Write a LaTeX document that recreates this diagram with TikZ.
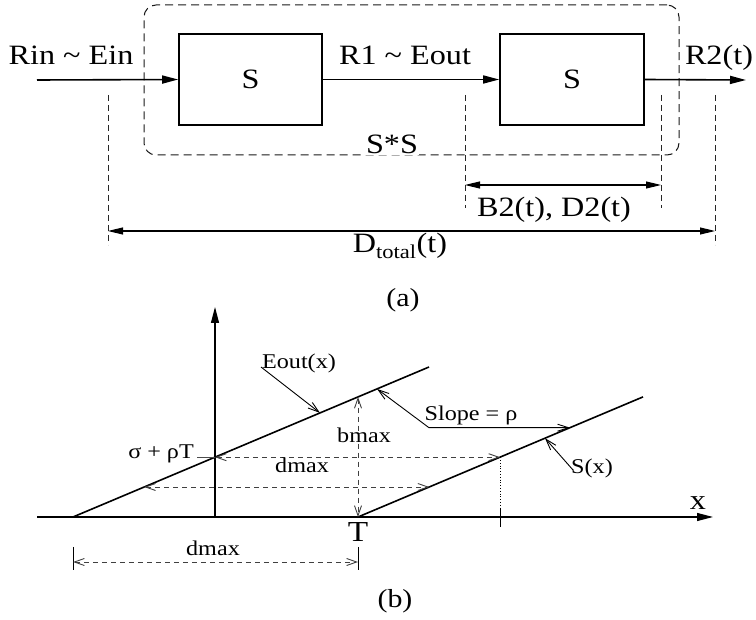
\documentclass[tikz,border=0pt]{standalone}
\usepackage{fontspec}
\setmainfont{Liberation Serif}[FakeStretch=1.15]
\usetikzlibrary{arrows.meta}
\newcommand\fsa{\fontsize{28}{32}\selectfont}
\newcommand\fsb{\fontsize{21}{25}\selectfont}
\newcommand\fsc{\fontsize{26}{30}\selectfont}
\tikzset{
  sysbox/.style={draw, line width=1.6pt, minimum height=91pt, inner sep=0pt, font=\fsa},
  sig/.style={line width=1.6pt, -{Triangle[length=16pt,width=8pt]}},
  dimline/.style={line width=1.1pt, {Triangle[length=15pt,width=7pt]}-{Triangle[length=15pt,width=7pt]}},
  extline/.style={line width=1pt, black!85, dash pattern=on 6pt off 4pt},
  grpbox/.style={draw, line width=1pt, black!90, dash pattern=on 8pt off 5pt, rounded corners=12pt, minimum width=535pt, minimum height=150pt, inner sep=0pt},
  lbla/.style={font=\fsa, inner sep=0pt, anchor=base},
  lblb/.style={font=\fsb, inner sep=0pt, anchor=base},
  axisline/.style={line width=1.1pt, -{Triangle[length=16pt,width=8pt]}},
  curve/.style={line width=1.6pt},
  barbs/.style={line width=0.9pt, black!75, dash pattern=on 5pt off 4pt, {Straight Barb[length=10pt,width=7pt]}-{Straight Barb[length=10pt,width=7pt]}},
  pointer/.style={line width=0.9pt, -{Straight Barb[length=11pt,width=7pt]}},
  tickline/.style={line width=0.9pt},
}
\begin{document}
\begin{tikzpicture}[x=1pt,y=-1pt]
\useasboundingbox (0,0) rectangle (756,620);
% ---------- (a) ----------
\node[grpbox] (grp) at (411.5,80) {};
\node[sysbox, minimum width=143pt] (b1) at (250.5,79.5) {S};
\node[sysbox, minimum width=144pt] (b2) at (572,79.5) {S};
\coordinate (in) at (37,80);
\coordinate (out) at (746,80);
\draw[sig] (in) -- (b1.west);
\draw[sig] (b1.east) -- (b2.west);
\draw[sig] (b2.east) -- (out);
\node[lbla] (lin) at (71,65) {Rin \textasciitilde{} Ein};
\node[lbla] (lr1) at (405,65) {R1 \textasciitilde{} Eout};
\node[lbla] (lr2) at (719,65) {R2(t)};
\node[lbla, fill=white, inner sep=1.5pt] (lss) at (392,153.5) {S*S};
% extension lines
\coordinate (e1t) at (108,95);  \coordinate (e1b) at (108,245);
\coordinate (e2t) at (465,95);  \coordinate (e2b) at (465,208);
\coordinate (e3t) at (661,95);  \coordinate (e3b) at (661,208);
\coordinate (e4t) at (715,95);  \coordinate (e4b) at (715,245);
\draw[extline] (e1t) -- (e1b);
\draw[extline] (e2t) -- (e2b);
\draw[extline] (e3t) -- (e3b);
\draw[extline] (e4t) -- (e4b);
\coordinate (bl) at (465,185); \coordinate (br) at (661,185);
\draw[dimline] (bl) -- (br);
\node[lbla] (lb2) at (554,217) {B2(t), D2(t)};
\coordinate (dl) at (108,231); \coordinate (dr) at (715,231);
\draw[dimline] (dl) -- (dr);
\node[lbla] (ldt) at (400,253) {D\textsubscript{total}(t)};
\node[font=\fsc, inner sep=0pt] (capa) at (403,300) {(a)};
% ---------- (b) ----------
\coordinate (xs) at (37,517);  \coordinate (xe) at (713,517);
\coordinate (ys) at (215,517); \coordinate (ye) at (215,307);
\draw[axisline] (xs) -- (xe);
\draw[axisline] (ys) -- (ye);
\node[font=\fontsize{28}{32}\selectfont, inner sep=0pt, anchor=base] (lx) at (698,510) {x};
% lines
\coordinate (E0) at (73,517);  \coordinate (E1) at (429,367);
\coordinate (S0) at (358,517); \coordinate (S1) at (643,396.9);
\draw[curve] (E0) -- (E1);
\draw[curve] (S0) -- (S1);
\node[font=\fontsize{29}{32}\selectfont, inner sep=0pt, anchor=base] (lT) at (358,541) {T};
% sigma + rho T level
\coordinate (Ey) at (215,457.2); \coordinate (Sy) at (500,457.2);
\coordinate (sgt) at (197,457.2);
\draw[tickline, black!70] (sgt) -- (Ey);
\node[lblb, anchor=base east] (lsig) at (194,459) {σ + ρT};
\draw[barbs] (Ey) -- (Sy);
\node[lblb] (ldm1) at (302,473) {dmax};
\coordinate (Sd) at (500,512); \coordinate (tk1) at (500,508); \coordinate (tk2) at (500,527);
\draw[line width=0.8pt, dotted] (Sy) -- (Sd);
\draw[tickline] (tk1) -- (tk2);
% second horizontal
\coordinate (E2) at (144.2,487); \coordinate (S2) at (429.2,487);
\draw[barbs] (E2) -- (S2);
% bmax
\coordinate (Eb) at (358,396.9);
\draw[barbs] (Eb) -- (S0);
\node[lblb] (lbm) at (364,443) {bmax};
% Eout pointer
\node[lblb] (leo) at (299,369) {Eout(x)};
\coordinate (eop) at (261,367); \coordinate (eot) at (320,412.9);
\draw[pointer] (eop) -- (eot);
% slope pointer
\node[lblb] (lsl) at (471,421) {Slope = ρ};
\coordinate (slc) at (429,427.7); \coordinate (slE) at (377,388.9); \coordinate (slS) at (570,427.7);
\draw[line width=0.9pt, {Straight Barb[length=11pt,width=7pt]}-{Straight Barb[length=11pt,width=7pt]}] (slE) -- (slc) -- (slS);
% S(x) pointer
\node[lblb] (lsx) at (592,474) {S(x)};
\coordinate (sxp) at (573,470); \coordinate (sxt) at (545,438.2);
\draw[pointer] (sxp) -- (sxt);
% lower dmax
\coordinate (t1a) at (73,547); \coordinate (t1b) at (73,570);
\coordinate (t2a) at (358,547); \coordinate (t2b) at (358,570);
\draw[tickline] (t1a) -- (t1b);
\draw[tickline] (t2a) -- (t2b);
\coordinate (dd1) at (73,562); \coordinate (dd2) at (358,562);
\draw[barbs] (dd1) -- (dd2);
\node[lblb] (ldm2) at (213,556) {dmax};
\node[font=\fsc, inner sep=0pt] (capb) at (395,601) {(b)};
\end{tikzpicture}
\end{document}
